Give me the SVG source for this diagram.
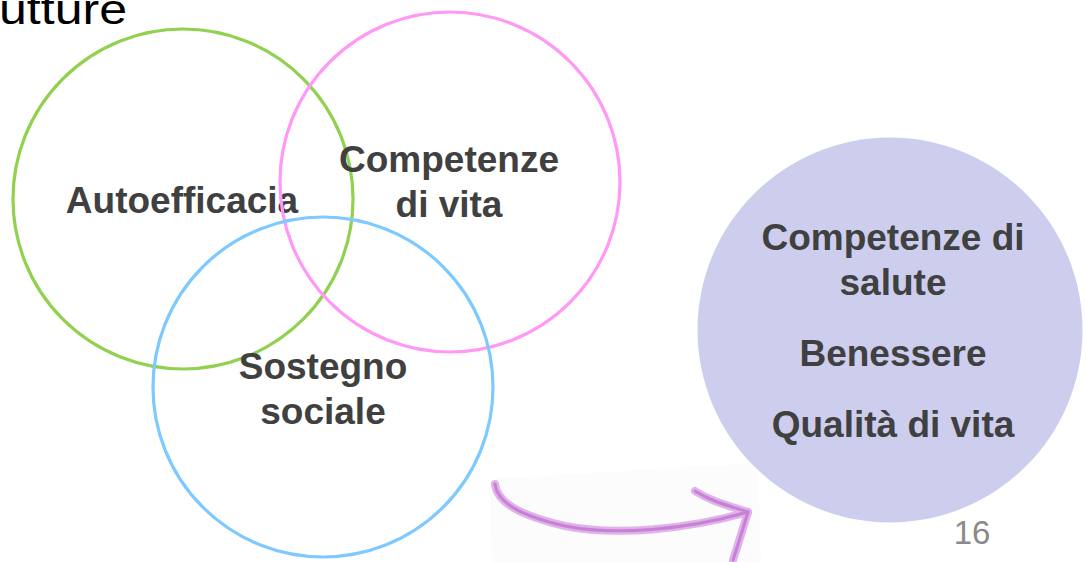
<svg xmlns="http://www.w3.org/2000/svg" width="1086" height="562" viewBox="0 0 1086 562">
<style>
.ring{fill:none;stroke-width:3.2}
.lbl{font-family:"Liberation Sans",Arial,sans-serif;font-weight:bold;font-size:37px;fill:#404040;text-anchor:middle}
.arw{fill:none;stroke-linecap:round;stroke-linejoin:round}
</style>
<rect width="1086" height="562" fill="#ffffff"/>
<text x="-1" y="24" font-family="'Liberation Sans',Arial,sans-serif" font-size="42" fill="#000000" textLength="128" lengthAdjust="spacingAndGlyphs">utture</text>
<polygon points="490,479 758,463 761,562 492,562" fill="#fcfcfc"/>
<g id="node-autoefficacia">
<circle class="ring" cx="183" cy="199" r="170" stroke="#92d050"/>
<text class="lbl" x="182" y="213">Autoefficacia</text>
</g>
<g id="node-competenze-vita">
<circle class="ring" cx="450" cy="182" r="170" stroke="#ff99f5"/>
<text class="lbl" x="449" y="172">Competenze</text>
<text class="lbl" x="449" y="217">di vita</text>
</g>
<g id="node-sostegno">
<circle class="ring" cx="323" cy="387" r="170" stroke="#7ec9ff"/>
<text class="lbl" x="323" y="379">Sostegno</text>
<text class="lbl" x="323" y="424">sociale</text>
</g>
<g id="node-esiti">
<circle cx="890" cy="330" r="192.5" fill="#cdcdee"/>
<text class="lbl" x="893" y="250">Competenze di</text>
<text class="lbl" x="893" y="295">salute</text>
<text class="lbl" x="893" y="366">Benessere</text>
<text class="lbl" x="893" y="437">Qualità di vita</text>
</g>
<g id="connectors">
<g stroke="#dba6e6" stroke-width="8" class="arw" opacity="0.85">
<path d="M495,484 C497,502 518,515 565,526 C615,536 685,530 748,512"/>
<path d="M695,491 C712,502 730,506 748,512"/>
<path d="M748,512 C743,528 738,545 733,560"/>
</g>
<g stroke="#c070d0" stroke-width="3" class="arw" opacity="0.75">
<path d="M495,484 C497,502 518,515 565,526 C615,536 685,530 748,512"/>
<path d="M695,491 C712,502 730,506 748,512"/>
<path d="M748,512 C743,528 738,545 733,560"/>
</g>
</g>
<text x="972" y="544" font-family="'Liberation Sans',Arial,sans-serif" font-size="33" fill="#8a8a8a" text-anchor="middle">16</text>
</svg>
